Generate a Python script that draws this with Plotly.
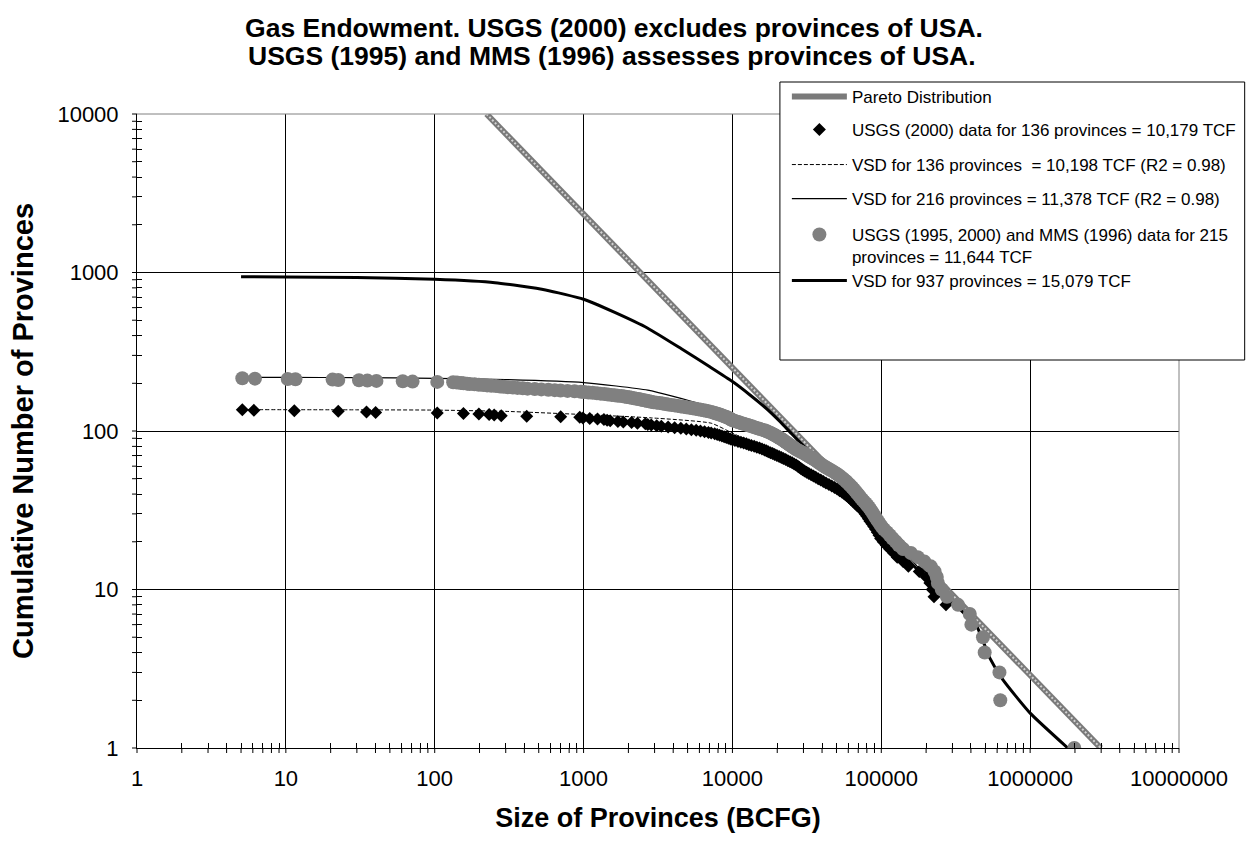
import math
import plotly.graph_objects as go

# ---------------- data ----------------
x_tick_vals = [1, 10, 100, 1000, 10000, 100000, 1000000, 10000000]
x_tick_text = ["1", "10", "100", "1000", "10000", "100000", "1000000", "10000000"]
y_tick_vals = [1, 10, 100, 1000, 10000]
y_tick_text = ["1", "10", "100", "1000", "10000"]

# Pareto distribution (straight line on log-log axes)
pareto_size = [223, 2980000]
pareto_count = [10000, 1]

# USGS (2000) data, 136 provinces, ordered from largest (rank 1) to smallest
usgs2000_size = [
    1980000, 630000, 622000, 495000, 482000, 403000, 393000, 272000, 226000, 220000,
    212000, 200000, 180000, 152000, 140000, 128000, 121000, 114000, 108000, 103000,
    99000, 96500, 94000, 91500, 89000, 86500, 84000, 82000, 80000, 78000,
    76000, 73500, 71000, 68500, 66500, 64500, 62500, 60500, 58500, 56500,
    54500, 52500, 50500, 48500, 46500, 44500, 42500, 40800, 39200, 37700,
    36300, 35000, 33800, 32600, 31500, 30500, 29600, 28800, 28100, 27500,
    26800, 26000, 25200, 24400, 23600, 22800, 22000, 21300, 20600, 19900,
    19200, 18600, 18000, 17400, 16900, 16400, 15800, 15200, 14600, 14000,
    13400, 12900, 12400, 11900, 11400, 10900, 10400, 10000, 9700, 9400,
    9100, 8800, 8500, 8200, 7900, 7600, 7200, 6900, 6500, 6100,
    5710, 5300, 4900, 4500, 4090, 3700, 3330, 3100, 2850, 2700,
    2600, 2300, 2100, 1850, 1700, 1510, 1440, 1370, 1240, 1100,
    990, 943, 702, 415, 280, 251, 232, 198, 156, 104,
    40.1, 34.8, 22.5, 11.4, 6.1, 5.1,
]
usgs2000_count = [
    1, 2, 3, 4, 5, 6, 7, 8, 9, 10, 11, 12, 13, 14, 15, 16, 17, 18, 19, 20,
    21, 22, 23, 24, 25, 26, 27, 28, 29, 30, 31, 32, 33, 34, 35, 36, 37, 38, 39, 40,
    41, 42, 43, 44, 45, 46, 47, 48, 49, 50, 51, 52, 53, 54, 55, 56, 57, 58, 59, 60,
    61, 62, 63, 64, 65, 66, 67, 68, 69, 70, 71, 72, 73, 74, 75, 76, 77, 78, 79, 80,
    81, 82, 83, 84, 85, 86, 87, 88, 89, 90, 91, 92, 93, 94, 95, 96, 97, 98, 99, 100,
    101, 102, 103, 104, 105, 106, 107, 108, 109, 110, 111, 112, 113, 114, 115, 116, 117, 118, 119, 120,
    121, 122, 123, 124, 125, 126, 127, 128, 129, 130, 131, 132, 133, 134, 135, 136,
]

# USGS (1995, 2000) and MMS (1996) data, 215 provinces, largest first
all_size = [
    1980000, 630000, 622000, 495000, 482000, 403000, 393000, 328000, 276000, 255000,
    240000, 236000, 228000, 215000, 195000, 176000, 158000, 140000, 131000, 125000,
    119000, 114000, 109000, 104000, 100500, 97500, 95000, 92500, 90500, 88500,
    86500, 84500, 82500, 80500, 78500, 76400, 74400, 72600, 71000, 69500,
    68000, 66600, 65200, 63800, 62400, 61000, 59600, 58200, 56800, 55400,
    54000, 52600, 51200, 49800, 48300, 46800, 45300, 43800, 42400, 41200,
    40100, 39100, 38200, 37300, 36400, 35500, 34600, 33700, 32800, 32000,
    31200, 30400, 29600, 28800, 28000, 27200, 26600, 26100, 25600, 25100,
    24600, 24100, 23700, 23300, 22900, 22500, 22100, 21700, 21300, 20900,
    20500, 20100, 19700, 19300, 18900, 18500, 18100, 17700, 17300, 16900,
    16400, 15800, 15300, 14800, 14300, 13900, 13500, 13100, 12700, 12300,
    11900, 11500, 11200, 10900, 10600, 10300, 10000, 9850, 9700, 9550,
    9400, 9200, 9000, 8800, 8600, 8400, 8200, 8000, 7800, 7600,
    7400, 7200, 6900, 6650, 6400, 6150, 5900, 5650, 5400, 5150,
    4900, 4700, 4500, 4300, 4100, 3900, 3700, 3550, 3400, 3250,
    3100, 2950, 2850, 2750, 2660, 2580, 2500, 2420, 2340, 2260,
    2180, 2100, 2030, 1960, 1880, 1800, 1700, 1620, 1540, 1460,
    1380, 1300, 1230, 1150, 1080, 1010, 960, 870, 780, 700,
    640, 580, 520, 470, 420, 390, 360, 335, 310, 290,
    275, 258, 240, 225, 212, 198, 185, 172, 165, 156,
    150, 141, 133, 104, 71, 61, 40.6, 35.3, 31, 22.5,
    20.6, 11.6, 10.3, 6.2, 5.1,
]
all_count = [
    1, 2, 3, 4, 5, 6, 7, 8, 9, 10, 11, 12, 13, 14, 15, 16, 17, 18, 19, 20,
    21, 22, 23, 24, 25, 26, 27, 28, 29, 30, 31, 32, 33, 34, 35, 36, 37, 38, 39, 40,
    41, 42, 43, 44, 45, 46, 47, 48, 49, 50, 51, 52, 53, 54, 55, 56, 57, 58, 59, 60,
    61, 62, 63, 64, 65, 66, 67, 68, 69, 70, 71, 72, 73, 74, 75, 76, 77, 78, 79, 80,
    81, 82, 83, 84, 85, 86, 87, 88, 89, 90, 91, 92, 93, 94, 95, 96, 97, 98, 99, 100,
    101, 102, 103, 104, 105, 106, 107, 108, 109, 110, 111, 112, 113, 114, 115, 116, 117, 118, 119, 120,
    121, 122, 123, 124, 125, 126, 127, 128, 129, 130, 131, 132, 133, 134, 135, 136, 137, 138, 139, 140,
    141, 142, 143, 144, 145, 146, 147, 148, 149, 150, 151, 152, 153, 154, 155, 156, 157, 158, 159, 160,
    161, 162, 163, 164, 165, 166, 167, 168, 169, 170, 171, 172, 173, 174, 175, 176, 177, 178, 179, 180,
    181, 182, 183, 184, 185, 186, 187, 188, 189, 190, 191, 192, 193, 194, 195, 196, 197, 198, 199, 200,
    201, 202, 203, 204, 205, 206, 207, 208, 209, 210, 211, 212, 213, 214, 215,
]

# VSD fitted curves
vsd136_size = [5, 30, 100, 300, 1000, 2850, 7200, 10000, 16400, 27200, 45300, 76400,
               100000, 150000, 220000, 300000, 436000, 535000, 657000, 1000000, 1790000]
vsd136_count = [136.4, 136, 135.5, 133, 127, 121, 112, 97, 78, 62, 46, 31,
                23.5, 15.5, 10.8, 8.3, 5.9, 3.7, 2.69, 1.66, 1.0]

vsd216_size = [5, 10, 30, 100, 300, 1000, 2700, 5830, 9700, 16400, 27200, 45300, 76400,
               100000, 150000, 220000, 300000, 436000, 535000, 657000, 1000000, 1790000]
vsd216_count = [218, 218, 217, 215, 211, 202, 181, 150, 123, 100, 77, 57, 37,
                26, 16.5, 11, 8.3, 5.9, 3.7, 2.69, 1.66, 1.0]

vsd937_size = [5, 10, 30, 100, 254, 555, 1000, 1620, 2700, 4540, 7000, 10000, 13000,
               17000, 21000, 25000, 30200, 45000, 70000, 100000, 150000, 220000, 300000,
               436000, 535000, 657000, 1000000, 1790000]
vsd937_count = [940, 938, 930, 906, 863, 776, 678, 560, 445, 330, 255, 205, 170,
                138, 114, 96, 80, 55, 35, 24, 15.5, 10.8, 8.3,
                5.9, 3.7, 2.69, 1.66, 1.0]

title_lines = ["Gas Endowment. USGS (2000) excludes provinces of USA.",
               "USGS (1995) and MMS (1996) assesses provinces of USA."]
names = [
    "Pareto Distribution",
    "USGS (2000) data for 136 provinces = 10,179 TCF",
    "VSD for 136 provinces  = 10,198 TCF (R2 = 0.98)",
    "VSD for 216 provinces = 11,378 TCF (R2 = 0.98)",
    "USGS (1995, 2000) and MMS (1996) data for 215<br>provinces = 11,644 TCF",
    "VSD for 937 provinces = 15,079 TCF",
]

FONT = "Liberation Sans, Arial, sans-serif"
# plot area in pixels: left 137, right 1184, top 114, bottom 748
PL, PR, PT, PB = 137, 1184, 114, 748
PW, PH = PR - PL, PB - PT
TICK = 5  # tick half-length in px
X_RANGE = [0, 7]  # log10 decades
Y_RANGE = [0, 4]


def px_x(px):
    return (px - PL) / PW


def px_y(py):
    return (PB - py) / PH


fig = go.Figure()

# lines first (drawn below the markers)
fig.add_trace(go.Scatter(x=pareto_size, y=pareto_count, mode="lines", name=names[0],
                         line=dict(color="#7a7a7a", width=6), legend="legend"))
fig.add_trace(go.Scatter(x=pareto_size, y=pareto_count, mode="lines", showlegend=False,
                         line=dict(color="#d2d2d2", width=2, dash="2px,2px")))
fig.add_trace(go.Scatter(x=vsd136_size, y=vsd136_count, mode="lines", name=names[2],
                         line=dict(color="black", width=1, dash="4px,2px", shape="spline", smoothing=0.5),
                         legend="legend3"))
fig.add_trace(go.Scatter(x=vsd216_size, y=vsd216_count, mode="lines", name=names[3],
                         line=dict(color="black", width=1.2, shape="spline", smoothing=0.5),
                         legend="legend4"))
fig.add_trace(go.Scatter(x=vsd937_size, y=vsd937_count, mode="lines", name=names[5],
                         line=dict(color="black", width=3, shape="spline", smoothing=0.5),
                         legend="legend6"))
fig.add_trace(go.Scatter(x=usgs2000_size, y=usgs2000_count, mode="markers", name=names[1],
                         marker=dict(symbol="diamond", size=10, color="black", line=dict(width=0)),
                         legend="legend2"))
fig.add_trace(go.Scatter(x=all_size, y=all_count, mode="markers", name=names[4],
                         marker=dict(symbol="circle", size=14, color="#808080", line=dict(width=0)),
                         legend="legend5"))
# empty trace so the overlay axes (carrying the inward half of the crossing ticks) exist
fig.add_trace(go.Scatter(x=[], y=[], xaxis="x2", yaxis="y2", showlegend=False, hoverinfo="skip"))

minor_x = [m * 10 ** e for e in range(0, 7) for m in range(2, 10)]
minor_y = [m * 10 ** e for e in range(0, 4) for m in range(2, 10)]

axis_common = dict(type="log", showgrid=True, gridcolor="black", gridwidth=1,
                   showline=True, linecolor="black", linewidth=1, zeroline=False,
                   tickmode="array", ticks="",
                   tickfont=dict(family=FONT, size=22, color="black"))


def tick_axis(rng, over, anchor, side, vals, minor_vals):
    return dict(type="log", range=rng, overlaying=over, anchor=anchor, side=side,
                showgrid=False, showline=False, zeroline=False, showticklabels=False,
                tickmode="array", tickvals=vals, ticks="inside", ticklen=TICK,
                tickcolor="black", tickwidth=1,
                minor=dict(tickmode="array", tickvals=minor_vals, ticks="inside", ticklen=TICK,
                           tickcolor="black", tickwidth=1, showgrid=False))


def legend_at(py, anchor="middle", valign="middle"):
    return dict(x=px_x(790), y=px_y(py), xanchor="left", yanchor=anchor, valign=valign,
                bgcolor="rgba(0,0,0,0)", borderwidth=0, itemwidth=55,
                font=dict(family=FONT, size=17, color="black"))


# outward halves of the crossing tick marks (axis decoration, in paper coordinates)
def frac(v, rng):
    return (math.log10(v) - rng[0]) / (rng[1] - rng[0])


tick_shapes = []
for v in x_tick_vals + minor_x:
    f = frac(v, X_RANGE)
    tick_shapes.append(dict(type="line", xref="paper", yref="paper", x0=f, x1=f,
                            y0=0, y1=-TICK / PH, line=dict(color="black", width=1),
                            layer="above"))
for v in y_tick_vals + minor_y:
    f = frac(v, Y_RANGE)
    tick_shapes.append(dict(type="line", xref="paper", yref="paper", y0=f, y1=f,
                            x0=0, x1=-TICK / PW, line=dict(color="black", width=1),
                            layer="above"))

fig.update_layout(
    width=1253, height=854,
    paper_bgcolor="white", plot_bgcolor="white",
    margin=dict(l=PL, r=1253 - PR, t=PT, b=854 - PB),
    font=dict(family=FONT, color="black"),
    title=dict(text=title_lines[0],
               x=614 / 1253, xref="container", xanchor="center",
               y=1 - 28 / 854, yref="container", yanchor="middle",
               font=dict(family=FONT, size=26.5, weight="bold", color="black")),
    annotations=[dict(text=title_lines[1], xref="paper", yref="paper",
                      x=px_x(614), y=px_y(56), xanchor="center", yanchor="middle",
                      showarrow=False,
                      font=dict(family=FONT, size=26.5, weight="bold", color="black"))],
    xaxis=dict(**axis_common, range=X_RANGE, tickvals=x_tick_vals, ticktext=x_tick_text,
               ticklabelstandoff=11,
               title=dict(text="Size of Provinces (BCFG)", standoff=17,
                          font=dict(family=FONT, size=27, weight="bold", color="black"))),
    yaxis=dict(**axis_common, range=Y_RANGE, tickvals=y_tick_vals, ticktext=y_tick_text,
               ticklabelstandoff=13,
               title=dict(text="Cumulative Number of Provinces", standoff=15,
                          font=dict(family=FONT, size=29, weight="bold", color="black"))),
    xaxis2=tick_axis(X_RANGE, "x", "y", "bottom", x_tick_vals, minor_x),
    yaxis2=tick_axis(Y_RANGE, "y", "x", "left", y_tick_vals, minor_y),
    legend=legend_at(97),
    legend2=legend_at(130),
    legend3=legend_at(165),
    legend4=legend_at(199),
    legend5=legend_at(217, anchor="top", valign="top"),
    legend6=legend_at(281),
    showlegend=True,
    shapes=tick_shapes + [
        # plot-area border on top and right (grey, as in the source)
        dict(type="line", xref="x domain", yref="y domain", x0=0, x1=1, y0=1, y1=1,
             line=dict(color="#808080", width=1), layer="above"),
        dict(type="line", xref="x domain", yref="y domain", x0=1, x1=1, y0=0, y1=1,
             line=dict(color="#808080", width=1), layer="above"),
        # legend box
        dict(type="rect", xref="paper", yref="paper",
             x0=px_x(783), x1=px_x(1250), y0=px_y(360), y1=px_y(82),
             line=dict(color="black", width=1), fillcolor="white", layer="above"),
    ],
)

fig.write_html("out.html", config={"displayModeBar": False},
               post_script="document.body.style.margin='0';")
